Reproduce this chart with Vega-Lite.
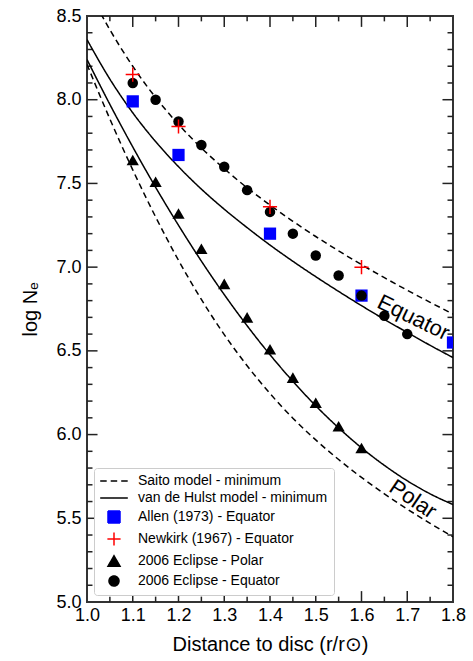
{
  "$schema": "https://vega.github.io/schema/vega-lite/v6.json",
  "width": 366,
  "height": 586,
  "autosize": {"type": "none"},
  "padding": {"left": 87, "top": 16, "right": 20, "bottom": 59},
  "background": "white",
  "config": {
    "view": {"stroke": "#333333", "strokeWidth": 2, "fill": null},
    "font": "Liberation Sans",
    "axis": {"grid": false, "domain": false, "ticks": false}
  },
  "datasets": {
    "curves": [
      {"x": 1.0, "logNe": 8.672, "series": "Saito model - minimum", "part": "Equator"},
      {"x": 1.025, "logNe": 8.540, "series": "Saito model - minimum", "part": "Equator"},
      {"x": 1.05, "logNe": 8.418, "series": "Saito model - minimum", "part": "Equator"},
      {"x": 1.1, "logNe": 8.200, "series": "Saito model - minimum", "part": "Equator"},
      {"x": 1.15, "logNe": 8.013, "series": "Saito model - minimum", "part": "Equator"},
      {"x": 1.2, "logNe": 7.853, "series": "Saito model - minimum", "part": "Equator"},
      {"x": 1.25, "logNe": 7.712, "series": "Saito model - minimum", "part": "Equator"},
      {"x": 1.3, "logNe": 7.588, "series": "Saito model - minimum", "part": "Equator"},
      {"x": 1.35, "logNe": 7.474, "series": "Saito model - minimum", "part": "Equator"},
      {"x": 1.4, "logNe": 7.371, "series": "Saito model - minimum", "part": "Equator"},
      {"x": 1.45, "logNe": 7.274, "series": "Saito model - minimum", "part": "Equator"},
      {"x": 1.5, "logNe": 7.183, "series": "Saito model - minimum", "part": "Equator"},
      {"x": 1.55, "logNe": 7.097, "series": "Saito model - minimum", "part": "Equator"},
      {"x": 1.6, "logNe": 7.015, "series": "Saito model - minimum", "part": "Equator"},
      {"x": 1.65, "logNe": 6.937, "series": "Saito model - minimum", "part": "Equator"},
      {"x": 1.7, "logNe": 6.862, "series": "Saito model - minimum", "part": "Equator"},
      {"x": 1.75, "logNe": 6.790, "series": "Saito model - minimum", "part": "Equator"},
      {"x": 1.8, "logNe": 6.720, "series": "Saito model - minimum", "part": "Equator"},
      {"x": 1.0, "logNe": 8.211, "series": "Saito model - minimum", "part": "Polar"},
      {"x": 1.05, "logNe": 7.885, "series": "Saito model - minimum", "part": "Polar"},
      {"x": 1.1, "logNe": 7.581, "series": "Saito model - minimum", "part": "Polar"},
      {"x": 1.15, "logNe": 7.300, "series": "Saito model - minimum", "part": "Polar"},
      {"x": 1.2, "logNe": 7.041, "series": "Saito model - minimum", "part": "Polar"},
      {"x": 1.25, "logNe": 6.807, "series": "Saito model - minimum", "part": "Polar"},
      {"x": 1.3, "logNe": 6.597, "series": "Saito model - minimum", "part": "Polar"},
      {"x": 1.35, "logNe": 6.411, "series": "Saito model - minimum", "part": "Polar"},
      {"x": 1.4, "logNe": 6.245, "series": "Saito model - minimum", "part": "Polar"},
      {"x": 1.45, "logNe": 6.098, "series": "Saito model - minimum", "part": "Polar"},
      {"x": 1.5, "logNe": 5.968, "series": "Saito model - minimum", "part": "Polar"},
      {"x": 1.55, "logNe": 5.851, "series": "Saito model - minimum", "part": "Polar"},
      {"x": 1.6, "logNe": 5.744, "series": "Saito model - minimum", "part": "Polar"},
      {"x": 1.65, "logNe": 5.646, "series": "Saito model - minimum", "part": "Polar"},
      {"x": 1.7, "logNe": 5.555, "series": "Saito model - minimum", "part": "Polar"},
      {"x": 1.75, "logNe": 5.470, "series": "Saito model - minimum", "part": "Polar"},
      {"x": 1.8, "logNe": 5.389, "series": "Saito model - minimum", "part": "Polar"},
      {"x": 1.0, "logNe": 8.359, "series": "van de Hulst model - minimum", "part": "Equator"},
      {"x": 1.05, "logNe": 8.123, "series": "van de Hulst model - minimum", "part": "Equator"},
      {"x": 1.1, "logNe": 7.922, "series": "van de Hulst model - minimum", "part": "Equator"},
      {"x": 1.15, "logNe": 7.750, "series": "van de Hulst model - minimum", "part": "Equator"},
      {"x": 1.2, "logNe": 7.600, "series": "van de Hulst model - minimum", "part": "Equator"},
      {"x": 1.25, "logNe": 7.466, "series": "van de Hulst model - minimum", "part": "Equator"},
      {"x": 1.3, "logNe": 7.346, "series": "van de Hulst model - minimum", "part": "Equator"},
      {"x": 1.35, "logNe": 7.236, "series": "van de Hulst model - minimum", "part": "Equator"},
      {"x": 1.4, "logNe": 7.132, "series": "van de Hulst model - minimum", "part": "Equator"},
      {"x": 1.45, "logNe": 7.035, "series": "van de Hulst model - minimum", "part": "Equator"},
      {"x": 1.5, "logNe": 6.943, "series": "van de Hulst model - minimum", "part": "Equator"},
      {"x": 1.55, "logNe": 6.855, "series": "van de Hulst model - minimum", "part": "Equator"},
      {"x": 1.6, "logNe": 6.770, "series": "van de Hulst model - minimum", "part": "Equator"},
      {"x": 1.65, "logNe": 6.688, "series": "van de Hulst model - minimum", "part": "Equator"},
      {"x": 1.7, "logNe": 6.610, "series": "van de Hulst model - minimum", "part": "Equator"},
      {"x": 1.75, "logNe": 6.533, "series": "van de Hulst model - minimum", "part": "Equator"},
      {"x": 1.8, "logNe": 6.460, "series": "van de Hulst model - minimum", "part": "Equator"},
      {"x": 1.0, "logNe": 8.240, "series": "van de Hulst model - minimum", "part": "Polar"},
      {"x": 1.05, "logNe": 7.972, "series": "van de Hulst model - minimum", "part": "Polar"},
      {"x": 1.1, "logNe": 7.718, "series": "van de Hulst model - minimum", "part": "Polar"},
      {"x": 1.15, "logNe": 7.477, "series": "van de Hulst model - minimum", "part": "Polar"},
      {"x": 1.2, "logNe": 7.250, "series": "van de Hulst model - minimum", "part": "Polar"},
      {"x": 1.25, "logNe": 7.036, "series": "van de Hulst model - minimum", "part": "Polar"},
      {"x": 1.3, "logNe": 6.836, "series": "van de Hulst model - minimum", "part": "Polar"},
      {"x": 1.35, "logNe": 6.650, "series": "van de Hulst model - minimum", "part": "Polar"},
      {"x": 1.4, "logNe": 6.477, "series": "van de Hulst model - minimum", "part": "Polar"},
      {"x": 1.45, "logNe": 6.318, "series": "van de Hulst model - minimum", "part": "Polar"},
      {"x": 1.5, "logNe": 6.172, "series": "van de Hulst model - minimum", "part": "Polar"},
      {"x": 1.55, "logNe": 6.040, "series": "van de Hulst model - minimum", "part": "Polar"},
      {"x": 1.6, "logNe": 5.921, "series": "van de Hulst model - minimum", "part": "Polar"},
      {"x": 1.65, "logNe": 5.816, "series": "van de Hulst model - minimum", "part": "Polar"},
      {"x": 1.7, "logNe": 5.724, "series": "van de Hulst model - minimum", "part": "Polar"},
      {"x": 1.75, "logNe": 5.646, "series": "van de Hulst model - minimum", "part": "Polar"},
      {"x": 1.8, "logNe": 5.582, "series": "van de Hulst model - minimum", "part": "Polar"}
    ],
    "points": [
      {"x": 1.1, "logNe": 7.99, "series": "Allen (1973) - Equator"},
      {"x": 1.2, "logNe": 7.67, "series": "Allen (1973) - Equator"},
      {"x": 1.4, "logNe": 7.20, "series": "Allen (1973) - Equator"},
      {"x": 1.6, "logNe": 6.83, "series": "Allen (1973) - Equator"},
      {"x": 1.8, "logNe": 6.55, "series": "Allen (1973) - Equator"},
      {"x": 1.1, "logNe": 7.64, "series": "2006 Eclipse - Polar"},
      {"x": 1.15, "logNe": 7.51, "series": "2006 Eclipse - Polar"},
      {"x": 1.2, "logNe": 7.32, "series": "2006 Eclipse - Polar"},
      {"x": 1.25, "logNe": 7.11, "series": "2006 Eclipse - Polar"},
      {"x": 1.3, "logNe": 6.90, "series": "2006 Eclipse - Polar"},
      {"x": 1.35, "logNe": 6.70, "series": "2006 Eclipse - Polar"},
      {"x": 1.4, "logNe": 6.51, "series": "2006 Eclipse - Polar"},
      {"x": 1.45, "logNe": 6.34, "series": "2006 Eclipse - Polar"},
      {"x": 1.5, "logNe": 6.19, "series": "2006 Eclipse - Polar"},
      {"x": 1.55, "logNe": 6.05, "series": "2006 Eclipse - Polar"},
      {"x": 1.6, "logNe": 5.92, "series": "2006 Eclipse - Polar"},
      {"x": 1.1, "logNe": 8.10, "series": "2006 Eclipse - Equator"},
      {"x": 1.15, "logNe": 8.00, "series": "2006 Eclipse - Equator"},
      {"x": 1.2, "logNe": 7.87, "series": "2006 Eclipse - Equator"},
      {"x": 1.25, "logNe": 7.73, "series": "2006 Eclipse - Equator"},
      {"x": 1.3, "logNe": 7.60, "series": "2006 Eclipse - Equator"},
      {"x": 1.35, "logNe": 7.46, "series": "2006 Eclipse - Equator"},
      {"x": 1.4, "logNe": 7.33, "series": "2006 Eclipse - Equator"},
      {"x": 1.45, "logNe": 7.20, "series": "2006 Eclipse - Equator"},
      {"x": 1.5, "logNe": 7.07, "series": "2006 Eclipse - Equator"},
      {"x": 1.55, "logNe": 6.95, "series": "2006 Eclipse - Equator"},
      {"x": 1.6, "logNe": 6.83, "series": "2006 Eclipse - Equator"},
      {"x": 1.65, "logNe": 6.71, "series": "2006 Eclipse - Equator"},
      {"x": 1.7, "logNe": 6.60, "series": "2006 Eclipse - Equator"},
      {"x": 1.1, "logNe": 8.15, "series": "Newkirk (1967) - Equator"},
      {"x": 1.2, "logNe": 7.84, "series": "Newkirk (1967) - Equator"},
      {"x": 1.4, "logNe": 7.36, "series": "Newkirk (1967) - Equator"},
      {"x": 1.6, "logNe": 7.00, "series": "Newkirk (1967) - Equator"}
    ],
    "labels": [
      {"x": 1.638, "logNe": 6.80, "text": "Equator"},
      {"x": 1.666, "logNe": 5.70, "text": "Polar"}
    ],
    "xMajor": [{"t": 1.1}, {"t": 1.2}, {"t": 1.3}, {"t": 1.4}, {"t": 1.5}, {"t": 1.6}, {"t": 1.7}],
    "xMinor": [{"t": 1.05}, {"t": 1.15}, {"t": 1.25}, {"t": 1.35}, {"t": 1.45}, {"t": 1.55}, {"t": 1.65}, {"t": 1.75}],
    "yMajor": [{"t": 5.5}, {"t": 6.0}, {"t": 6.5}, {"t": 7.0}, {"t": 7.5}, {"t": 8.0}],
    "yMinor": [{"t": 5.1}, {"t": 5.2}, {"t": 5.3}, {"t": 5.4}, {"t": 5.6}, {"t": 5.7}, {"t": 5.8}, {"t": 5.9}, {"t": 6.1}, {"t": 6.2}, {"t": 6.3}, {"t": 6.4}, {"t": 6.6}, {"t": 6.7}, {"t": 6.8}, {"t": 6.9}, {"t": 7.1}, {"t": 7.2}, {"t": 7.3}, {"t": 7.4}, {"t": 7.6}, {"t": 7.7}, {"t": 7.8}, {"t": 7.9}, {"t": 8.1}, {"t": 8.2}, {"t": 8.3}, {"t": 8.4}]
  },
  "layer": [
    {
      "data": {"name": "xMajor"},
      "mark": {"type": "rule", "color": "#222222", "strokeWidth": 1.5},
      "encoding": {
        "x": {
          "field": "t", "type": "quantitative",
          "scale": {"domain": [1.0, 1.8], "nice": false, "zero": false},
          "axis": {
            "orient": "bottom",
            "values": [1, 1.1, 1.2, 1.3, 1.4, 1.5, 1.6, 1.7, 1.8],
            "format": ".1f",
            "labelFontSize": 18, "labelColor": "black", "labelPadding": 4,
            "labelFlush": false, "labelOverlap": false,
            "title": "Distance to disc (r/r⊙)", "titleFontSize": 20, "titleFontWeight": "normal",
            "titleColor": "black", "titlePadding": 10
          }
        },
        "y": {
          "datum": 5.0, "type": "quantitative",
          "scale": {"domain": [5.0, 8.5], "nice": false, "zero": false},
          "axis": {
            "orient": "left",
            "values": [5, 5.5, 6, 6.5, 7, 7.5, 8, 8.5],
            "format": ".1f",
            "labelFontSize": 18, "labelColor": "black", "labelPadding": 6,
            "labelFlush": false, "labelOverlap": false,
            "title": "log Nₑ", "titleFontSize": 20, "titleFontWeight": "normal",
            "titleColor": "black", "titlePadding": 15
          }
        },
        "y2": {"datum": 5.065}
      }
    },
    {
      "data": {"name": "xMajor"},
      "mark": {"type": "rule", "color": "#222222", "strokeWidth": 1.5},
      "encoding": {
        "x": {"field": "t", "type": "quantitative", "axis": null},
        "y": {"datum": 8.5, "type": "quantitative", "axis": null},
        "y2": {"datum": 8.435}
      }
    },
    {
      "data": {"name": "xMinor"},
      "mark": {"type": "rule", "color": "#222222", "strokeWidth": 1.5},
      "encoding": {
        "x": {"field": "t", "type": "quantitative", "axis": null},
        "y": {"datum": 5.0, "type": "quantitative", "axis": null},
        "y2": {"datum": 5.032}
      }
    },
    {
      "data": {"name": "xMinor"},
      "mark": {"type": "rule", "color": "#222222", "strokeWidth": 1.5},
      "encoding": {
        "x": {"field": "t", "type": "quantitative", "axis": null},
        "y": {"datum": 8.5, "type": "quantitative", "axis": null},
        "y2": {"datum": 8.468}
      }
    },
    {
      "data": {"name": "yMajor"},
      "mark": {"type": "rule", "color": "#222222", "strokeWidth": 1.5},
      "encoding": {
        "y": {"field": "t", "type": "quantitative", "axis": null},
        "x": {"datum": 1.0, "type": "quantitative", "axis": null},
        "x2": {"datum": 1.023}
      }
    },
    {
      "data": {"name": "yMajor"},
      "mark": {"type": "rule", "color": "#222222", "strokeWidth": 1.5},
      "encoding": {
        "y": {"field": "t", "type": "quantitative", "axis": null},
        "x": {"datum": 1.8, "type": "quantitative", "axis": null},
        "x2": {"datum": 1.777}
      }
    },
    {
      "data": {"name": "yMinor"},
      "mark": {"type": "rule", "color": "#222222", "strokeWidth": 1.5},
      "encoding": {
        "y": {"field": "t", "type": "quantitative", "axis": null},
        "x": {"datum": 1.0, "type": "quantitative", "axis": null},
        "x2": {"datum": 1.012}
      }
    },
    {
      "data": {"name": "yMinor"},
      "mark": {"type": "rule", "color": "#222222", "strokeWidth": 1.5},
      "encoding": {
        "y": {"field": "t", "type": "quantitative", "axis": null},
        "x": {"datum": 1.8, "type": "quantitative", "axis": null},
        "x2": {"datum": 1.788}
      }
    },
    {
      "data": {"name": "curves"},
      "mark": {"type": "line", "clip": true, "strokeWidth": 1.5, "interpolate": "monotone"},
      "encoding": {
        "x": {"field": "x", "type": "quantitative", "axis": null},
        "y": {"field": "logNe", "type": "quantitative", "axis": null},
        "color": {
          "field": "series", "type": "nominal",
          "scale": {
            "domain": ["Saito model - minimum", "van de Hulst model - minimum", "Allen (1973) - Equator", "Newkirk (1967) - Equator", "2006 Eclipse - Polar", "2006 Eclipse - Equator"],
            "range": ["black", "black", "#0000ff", "#ff0000", "black", "black"]
          },
          "legend": {
            "title": null, "orient": "bottom-left", "offset": 7, "padding": 6, "zindex": 2,
            "labelFontSize": 14, "labelFont": "Liberation Sans", "labelColor": "black", "labelLimit": 300,
            "symbolSize": 144, "symbolOffset": 7, "labelOffset": 17, "rowPadding": 3,
            "strokeColor": "#cccccc", "fillColor": "white", "cornerRadius": 3,
            "encode": {
              "symbols": {
                "update": {
                  "shape": {"signal": "(datum.value === 'Saito model - minimum' || datum.value === 'van de Hulst model - minimum') ? 'M-2.3,0H2.3' : datum.value === 'Allen (1973) - Equator' ? 'square' : datum.value === 'Newkirk (1967) - Equator' ? 'M-1.1,0H1.1M0,-1.1V1.1' : datum.value === '2006 Eclipse - Polar' ? 'triangle-up' : 'circle'"},
                  "fill": {"signal": "(datum.value === 'Saito model - minimum' || datum.value === 'van de Hulst model - minimum' || datum.value === 'Newkirk (1967) - Equator') ? 'transparent' : datum.value === 'Allen (1973) - Equator' ? '#0000ff' : 'black'"},
                  "stroke": {"signal": "(datum.value === 'Saito model - minimum' || datum.value === 'van de Hulst model - minimum') ? 'black' : datum.value === 'Newkirk (1967) - Equator' ? '#ff0000' : 'transparent'"},
                  "strokeDash": {"signal": "datum.value === 'Saito model - minimum' ? [6.5, 4] : [1, 0]"},
                  "strokeWidth": {"value": 1.5},
                  "size": {"signal": "datum.value === '2006 Eclipse - Equator' ? 100 : 144"},
                  "opacity": {"value": 1}
                }
              }
            }
          }
        },
        "strokeDash": {
          "field": "series", "type": "nominal",
          "scale": {"domain": ["Saito model - minimum", "van de Hulst model - minimum"], "range": [[6, 4], [1, 0]]},
          "legend": null
        },
        "detail": {"field": "part"}
      }
    },
    {
      "data": {"name": "points"},
      "transform": [{"filter": "datum.series !== 'Newkirk (1967) - Equator'"}],
      "mark": {"type": "point", "filled": true, "clip": true, "opacity": 1},
      "encoding": {
        "x": {"field": "x", "type": "quantitative", "axis": null},
        "y": {"field": "logNe", "type": "quantitative", "axis": null},
        "color": {"field": "series", "type": "nominal"},
        "shape": {
          "field": "series", "type": "nominal",
          "scale": {"domain": ["Allen (1973) - Equator", "2006 Eclipse - Polar", "2006 Eclipse - Equator"], "range": ["square", "triangle-up", "circle"]},
          "legend": null
        },
        "size": {"condition": {"test": "datum.series === '2006 Eclipse - Equator'", "value": 110}, "value": 150},
        "order": {"field": "series", "sort": "descending"}
      }
    },
    {
      "data": {"name": "points"},
      "transform": [{"filter": "datum.series === 'Newkirk (1967) - Equator'"}],
      "mark": {"type": "point", "filled": false, "clip": true, "opacity": 1, "strokeWidth": 1.5, "shape": "M-1,0H1M0,-1V1", "size": 200},
      "encoding": {
        "x": {"field": "x", "type": "quantitative", "axis": null},
        "y": {"field": "logNe", "type": "quantitative", "axis": null},
        "color": {"field": "series", "type": "nominal"}
      }
    },
    {
      "data": {"name": "labels"},
      "mark": {"type": "text", "fontSize": 22, "font": "Liberation Sans", "align": "left", "baseline": "middle", "clip": true, "color": "black"},
      "encoding": {
        "x": {"field": "x", "type": "quantitative", "axis": null},
        "y": {"field": "logNe", "type": "quantitative", "axis": null},
        "text": {"field": "text"},
        "angle": {"condition": {"test": "datum.text === 'Polar'", "value": 34}, "value": 26}
      }
    }
  ],
  "resolve": {"axis": {"x": "independent", "y": "independent"}}
}
